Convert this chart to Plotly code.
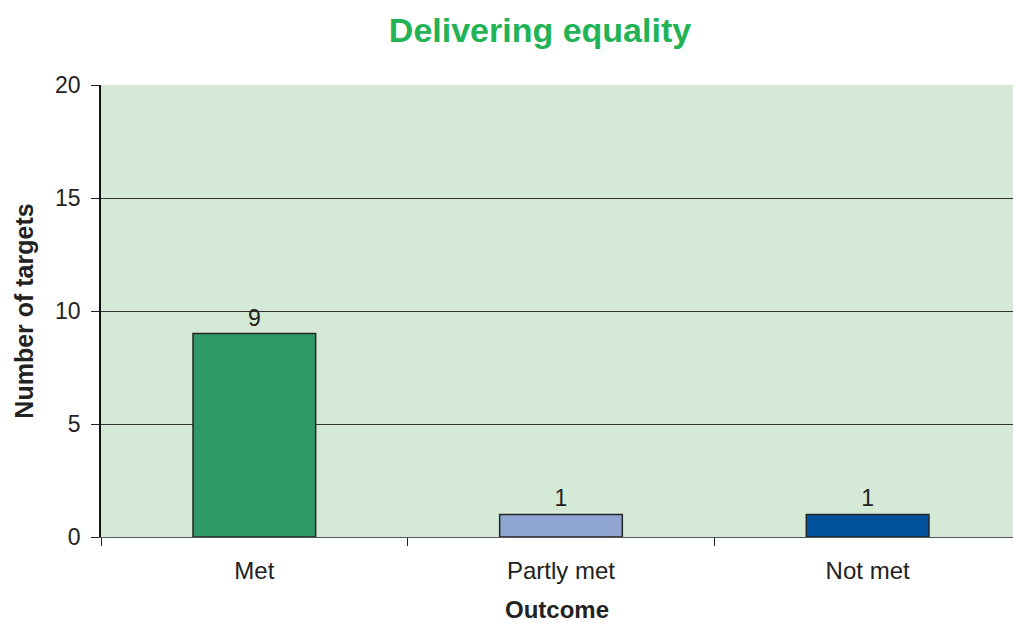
import plotly.graph_objects as go

# Outcome of the equality targets
outcomes = ["Met", "Partly met", "Not met"]
targets = [9, 1, 1]
bar_colors = ["#2e9966", "#8fa5d1", "#02519b"]
y_ticks = [0, 5, 10, 15, 20]

fig = go.Figure(
    go.Bar(
        x=outcomes,
        y=targets,
        width=0.4,
        marker=dict(color=bar_colors, line=dict(color="#262626", width=1.5)),
        text=[str(v) for v in targets],
        textposition="outside",
        textfont=dict(family="Liberation Sans, Arial", size=23, color="#222222"),
        cliponaxis=False,
    )
)

fig.update_layout(
    width=1013,
    height=623,
    margin=dict(l=101, r=0, t=85, b=86),
    paper_bgcolor="white",
    plot_bgcolor="#d5e9d7",
    showlegend=False,
    font=dict(family="Liberation Sans, Arial", color="#222222"),
    title=dict(
        text="<b>Delivering equality</b>",
        x=540 / 1013,
        xanchor="center",
        y=1 - 30 / 623,
        yanchor="middle",
        font=dict(size=34, color="#22b357"),
    ),
)

fig.update_xaxes(
    range=[-0.5, 2.474],
    tickson="boundaries",
    ticks="outside",
    ticklen=8,
    tickcolor="#222222",
    showline=True,
    linecolor="#555555",
    linewidth=1,
    tickfont=dict(size=24),
    ticklabelstandoff=12,
    title=dict(text="<b>Outcome</b>", font=dict(size=24), standoff=19),
    showgrid=False,
)

fig.update_yaxes(
    range=[0, 20],
    tickvals=y_ticks,
    ticks="outside",
    ticklen=8,
    tickcolor="#222222",
    showline=True,
    linecolor="#111111",
    linewidth=1.5,
    showgrid=True,
    gridcolor="#333333",
    gridwidth=1,
    zeroline=False,
    tickfont=dict(size=23),
    ticklabelstandoff=6,
    title=dict(text="<b>Number of targets</b>", font=dict(size=25), standoff=14),
)

fig.write_html("out.html")
